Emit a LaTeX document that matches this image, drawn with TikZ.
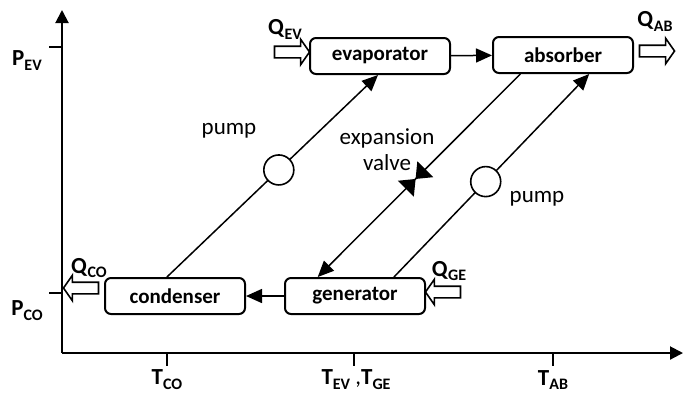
\documentclass[tikz,border=0pt]{standalone}
\usepackage{fontspec}
\setmainfont{Carlito}
\usetikzlibrary{positioning, arrows.meta, shapes.arrows}
\tikzset{
    >={Triangle[length=8pt,width=7pt]}, % filled arrow heads
    unit/.style={draw, line width=1pt, rounded corners=3pt, minimum width=70pt, minimum height=18pt, inner sep=0pt, font=\fontsize{10.5}{12}\selectfont\bfseries}, % the four boxes
    flow/.style={->, line width=0.75pt}, % lines between boxes
    heat/.style={single arrow, draw, fill=white, line width=0.8pt, minimum height=17.5pt, minimum width=12pt, single arrow head extend=3.5pt, single arrow tip angle=110, inner xsep=0pt, inner ysep=2.5pt},
}
\newcommand{\qlbl}[2]{\textbf{#1}\raisebox{-0.45ex}{\fontsize{8}{8}\selectfont\bfseries #2}}

\begin{document}
\begin{tikzpicture}[
                        x=0.5pt, y=-0.5pt,
                        pumpc/.style={circle, draw, fill=white, line width=0.8pt, minimum size=15pt, inner sep=0pt},
                        valvebox/.style={minimum width=13pt, minimum height=10.5pt, inner sep=0pt},
                        lbl/.style={font=\fontsize{11.5}{13}\selectfont},
                    ]
                    \useasboundingbox (0,0) rectangle (688,393);
                    % axes
                    \coordinate (orig) at (62,353);
                    \coordinate (ytop) at (62,10);
                    \coordinate (xend) at (683,353);
                    \draw[line width=1pt, -{Triangle[length=6.5pt,width=6.5pt]}] (orig) -- (ytop);
                    \draw[line width=1pt, -{Triangle[length=6.5pt,width=6.5pt]}] (orig) -- (xend);
                    \draw[line width=1pt] (49,47) -- (62,47) (49,293) -- (62,293);
                    \draw[line width=1pt] (167,353) -- (167,366) (354,353) -- (354,366) (553,353) -- (553,366);
                    \node[lbl] (pev) at (27,61) {\qlbl{P}{EV}};
                    \node[lbl] (pco) at (27,311) {\qlbl{P}{CO}};
                    \node[lbl] (tco) at (167,380) {\qlbl{T}{CO}};
                    \node[lbl] (tev) at (356,380) {\qlbl{T}{EV}\ ,\qlbl{T}{GE}};
                    \node[lbl] (tab) at (553,380) {\qlbl{T}{AB}};
                    % units
                    \node[unit] (evaporator) at (380,56) {evaporator};
                    \node[unit] (absorber) at (563,55) {absorber};
                    \node[unit] (condenser) at (175,296) {condenser};
                    \node[unit] (generator) at (355,296) {generator};
                    % heat flows
                    \node[heat] (qev) at (290,52) {};
                    \node[heat] (qab) at (655,51) {};
                    \node[heat, shape border rotate=180] (qco) at (83,288) {};
                    \node[heat, shape border rotate=180] (qge) at (445,292) {};
                    \node[lbl] (qevl) at (285,29) {\qlbl{Q}{EV}};
                    \node[lbl] (qabl) at (655,21) {\qlbl{Q}{AB}};
                    \node[lbl] (qcol) at (89,268) {\qlbl{Q}{CO}};
                    \node[lbl] (qgel) at (449,271) {\qlbl{Q}{GE}};
                    % connections
                    \draw
                    (evaporator) edge[flow] (absorber)
                    (generator) edge[flow] (condenser)
                    (condenser.113) edge[flow] node[pumpc, pos=0.53] (pumpL) {} (evaporator.264)
                    (generator.26) edge[flow] node[pumpc, pos=0.47] (pumpR) {} (absorber.324)
                    (absorber.204) edge[flow] node[valvebox, pos=0.517, sloped] (valve) {} (generator.153);
                    \fill (valve.north west) -- (valve.south east) -- (valve.north east) -- (valve.south west) -- cycle;
                    \node[lbl] (pumpLl) at (229,131) {pump};
                    \node[lbl, align=center] (valvel) at (387,150) {expansion\\valve};
                    \node[lbl] (pumpRl) at (537,199) {pump};
                \end{tikzpicture}
\end{document}
